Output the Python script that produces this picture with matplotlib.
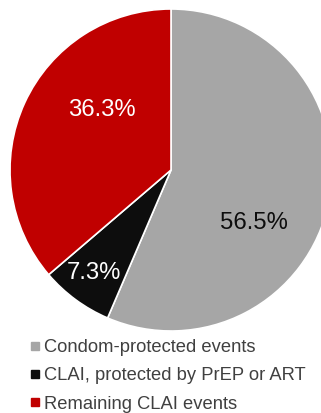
import matplotlib.pyplot as plt
from matplotlib.lines import Line2D

plt.rcParams['font.family'] = ['Liberation Sans', 'DejaVu Sans']

labels = ["Condom-protected events", "CLAI, protected by PrEP or ART", "Remaining CLAI events"]
values = [56.5, 7.3, 36.3]
colors = ["#A6A6A6", "#0D0D0D", "#C00000"]
pct_colors = ["#0D0D0D", "white", "white"]
# where Excel put the data labels (in units of the radius)
label_pos = [(0.515, -0.33), (-0.48, -0.64), (-0.43, 0.37)]

fig = plt.figure(figsize=(3.21, 4.13), dpi=100)
W, H = 321, 413
cx, cy, r = 171, 170, 161
ax = fig.add_axes([(cx - r) / W, (H - cy - r) / H, 2 * r / W, 2 * r / H])

wedges, texts, autotexts = ax.pie(values, colors=colors, startangle=90, counterclock=False,
                                  autopct='%1.1f%%', radius=1,
                                  wedgeprops=dict(edgecolor='white', linewidth=1.2),
                                  textprops=dict(fontsize=17.2))
for t, v, pos, c in zip(autotexts, values, label_pos, pct_colors):
    t.set_text(f"{v:.1f}%")
    t.set_position(pos)
    t.set_color(c)
ax.set_xlim(-1, 1)
ax.set_ylim(-1, 1)
ax.set_aspect('equal')

handles = [Line2D([], [], marker='s', linestyle='none', markersize=5.5,
                  markerfacecolor=c, markeredgecolor=c) for c in colors]
leg = fig.legend(handles, labels, loc='upper left', bbox_to_anchor=(29 / W, 1 - 339 / H),
                 frameon=False, fontsize=13.2, handlelength=0.6, handletextpad=0.2,
                 labelspacing=0.62, borderpad=0, borderaxespad=0)
for t in leg.get_texts():
    t.set_color('#404040')

fig.savefig('out.png', dpi=100)
